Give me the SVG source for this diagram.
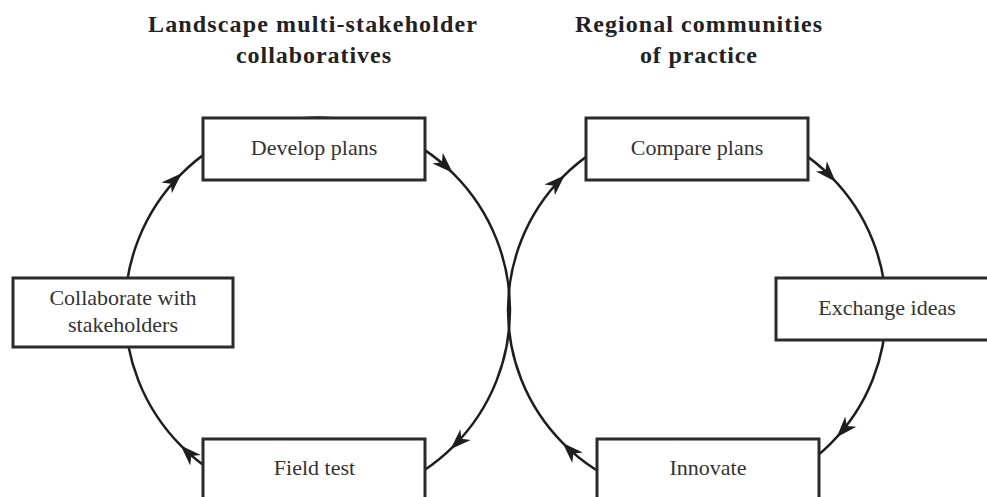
<svg xmlns="http://www.w3.org/2000/svg" xmlns:xlink="http://www.w3.org/1999/xlink" width="987" height="497" viewBox="0 0 987 497">
<style>
.title{font-family:"Liberation Serif","Times New Roman",serif;font-weight:bold;font-size:24px;fill:#222;text-anchor:middle}
.lbl{font-family:"Liberation Serif","Times New Roman",serif;font-size:22px;fill:#333;text-anchor:middle}
.box{fill:#fff;stroke:#2b2b2b;stroke-width:3}
.ring{fill:none;stroke:#1e1e1e;stroke-width:2.5}
.ah{fill:#1e1e1e}
</style>
<defs>
<path id="ah" d="M1,0 L-20,-7.5 L-14,0 L-20,7.5 Z"/>
</defs>
<rect width="987" height="497" fill="#fff"/>
<g id="titles">
<text class="title" x="312.5" y="32" textLength="329" lengthAdjust="spacing">Landscape multi-stakeholder</text>
<text class="title" x="313.5" y="63" textLength="155" lengthAdjust="spacing">collaboratives</text>
<text class="title" x="698.5" y="32" textLength="247" lengthAdjust="spacing">Regional communities</text>
<text class="title" x="698.5" y="63" textLength="117" lengthAdjust="spacing">of practice</text>
</g>
<g id="connectors">
<circle class="ring" cx="317.5" cy="310" r="192.5"/>
<circle class="ring" cx="697" cy="310" r="189"/>
<g class="ah">
<use xlink:href="#ah" transform="translate(181,174) rotate(316)"/>
<use xlink:href="#ah" transform="translate(452,172) rotate(44)"/>
<use xlink:href="#ah" transform="translate(451.2,448.5) rotate(136)"/>
<use xlink:href="#ah" transform="translate(181.4,446.1) rotate(225)"/>
<use xlink:href="#ah" transform="translate(564,176) rotate(316)"/>
<use xlink:href="#ah" transform="translate(835,181) rotate(47)"/>
<use xlink:href="#ah" transform="translate(837.4,436.5) rotate(132)"/>
<use xlink:href="#ah" transform="translate(563.4,443.6) rotate(225)"/>
</g>
</g>
<g id="develop">
<rect class="box" x="203" y="118" width="222" height="62"/>
<text class="lbl" x="314" y="155">Develop plans</text>
</g>
<g id="collaborate">
<rect class="box" x="13" y="278" width="220" height="69"/>
<text class="lbl" x="123" y="305">Collaborate with</text>
<text class="lbl" x="123" y="332">stakeholders</text>
</g>
<g id="fieldtest">
<rect class="box" x="203" y="439" width="222" height="70"/>
<text class="lbl" x="314.5" y="475">Field test</text>
</g>
<g id="compare">
<rect class="box" x="586" y="118" width="222" height="62"/>
<text class="lbl" x="697" y="155">Compare plans</text>
</g>
<g id="exchange">
<rect class="box" x="776" y="278" width="222" height="62"/>
<text class="lbl" x="887" y="315">Exchange ideas</text>
</g>
<g id="innovate">
<rect class="box" x="597" y="439" width="222" height="70"/>
<text class="lbl" x="708" y="475">Innovate</text>
</g>
</svg>
